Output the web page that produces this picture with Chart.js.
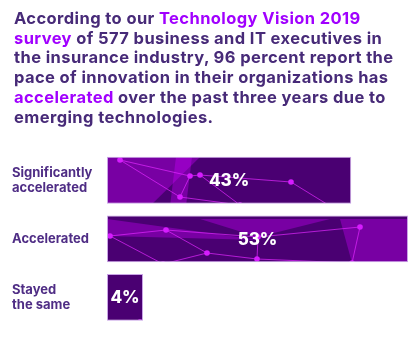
<!DOCTYPE html>
<html>
<head>
<meta charset="utf-8">
<script src="https://cdn.jsdelivr.net/npm/chart.js@4/dist/chart.umd.min.js"></script>
<style>
  body { margin: 0; background: #fff; }
  #wrap { position: relative; width: 420px; height: 345px; overflow: hidden; }
  #intro {
    position: absolute; left: 14px; top: 9px; width: 406px; white-space: nowrap;
    font-family: Inter, Roboto, sans-serif; font-weight: 700; letter-spacing: 0.4px;
    font-size: 16.5px; line-height: 19.7px; color: #472a78;
  }
  #intro .hl { color: #a100ff; }
  #survey { position: absolute; left: 0; top: 0; }
</style>
</head>
<body>
<div id="wrap">
  <canvas id="survey" width="420" height="345"></canvas>
  <div id="intro">
    According to our <span class="hl">Technology Vision 2019</span><br>
    <span class="hl">survey</span> of 577 business and IT executives in<br>
    the insurance industry, 96 percent report the<br>
    pace of innovation in their organizations has<br>
    <span class="hl">accelerated</span> over the past three years due to<br>
    emerging technologies.
  </div>
</div>
<script>
const categories = [["Significantly", "accelerated"], ["Accelerated"], ["Stayed", "the same"]];
const shares = [43, 53, 4];

const barPurple = "#4a0072";

// network-style texture used as the bar fill
function makeTexture(w, h) {
  const off = document.createElement("canvas");
  off.width = w;
  off.height = h;
  const g = off.getContext("2d");
  g.fillStyle = barPurple;
  g.fillRect(0, 0, w, h);

  const shapes = [
    [[107, 157], [200, 157], [150, 206], [107, 206]],
    [[176, 157], [192, 157], [186, 206], [170, 206]],
    [[107, 219], [260, 240], [107, 236]],
    [[340, 219], [420, 219], [420, 268], [352, 263]],
    [[200, 219], [330, 219], [258, 237]]
  ];
  g.fillStyle = "rgba(205, 0, 255, 0.35)";
  shapes.forEach(pts => {
    g.beginPath();
    pts.forEach(([x, y], i) => (i ? g.lineTo(x, y) : g.moveTo(x, y)));
    g.closePath();
    g.fill();
  });

  const nodes = [
    [190, 176], [200, 175], [291, 182], [180, 197], [120, 160], [240, 205], [330, 206],
    [110, 236], [166, 230], [207, 253], [163, 264], [258, 237], [257, 259], [360, 227], [352, 263],
    [125, 330], [140, 322]
  ];
  const edges = [
    [0, 1], [1, 2], [0, 3], [4, 0], [3, 5], [2, 6], [1, 5], [4, 3],
    [7, 8], [8, 9], [9, 10], [8, 11], [11, 12], [9, 12], [12, 14], [13, 14], [7, 10], [11, 13],
    [15, 16]
  ];
  g.strokeStyle = "rgba(225, 40, 255, 0.7)";
  g.lineWidth = 1;
  edges.forEach(([a, b]) => {
    g.beginPath();
    g.moveTo(nodes[a][0], nodes[a][1]);
    g.lineTo(nodes[b][0], nodes[b][1]);
    g.stroke();
  });
  g.fillStyle = "#d61cff";
  nodes.forEach(([x, y]) => {
    g.beginPath();
    g.arc(x, y, 2.8, 0, Math.PI * 2);
    g.fill();
  });
  return off;
}

const canvas = document.getElementById("survey");
const ctx = canvas.getContext("2d");
const texture = ctx.createPattern(makeTexture(420, 345), "no-repeat");

// white percentage in the middle of each bar
const valueLabels = {
  id: "valueLabels",
  afterDatasetsDraw(chart) {
    const c = chart.ctx;
    const meta = chart.getDatasetMeta(0);
    c.save();
    c.fillStyle = "#ffffff";
    c.font = "800 17px Inter, Roboto, sans-serif";
    c.textAlign = "center";
    c.textBaseline = "middle";
    meta.data.forEach((bar, i) => {
      const p = bar.getCenterPoint();
      c.fillText(shares[i] + "%", p.x, p.y + 1);
    });
    c.restore();
  }
};

new Chart(ctx, {
  type: "bar",
  data: {
    labels: categories,
    datasets: [{
      data: shares,
      backgroundColor: texture,
      borderColor: "#c9a3e6",
      borderWidth: 1,
      borderSkipped: false,
      barPercentage: 0.8,
      categoryPercentage: 1,
      minBarLength: 36
    }]
  },
  options: {
    indexAxis: "y",
    responsive: false,
    animation: false,
    devicePixelRatio: 1,
    layout: { padding: { top: 151, bottom: 9, left: 12, right: 12 } },
    scales: {
      x: { display: false, min: 0, max: 53 },
      y: {
        grid: { display: false },
        border: { display: false },
        afterFit(scale) { scale.width = 95; },
        ticks: {
          crossAlign: "far",
          color: "#4f2d85",
          font: { family: "Inter, Roboto, sans-serif", size: 13, weight: "700", lineHeight: 1.18 }
        }
      }
    },
    plugins: {
      legend: { display: false },
      tooltip: { enabled: false }
    }
  },
  plugins: [valueLabels]
});
</script>
</body>
</html>
